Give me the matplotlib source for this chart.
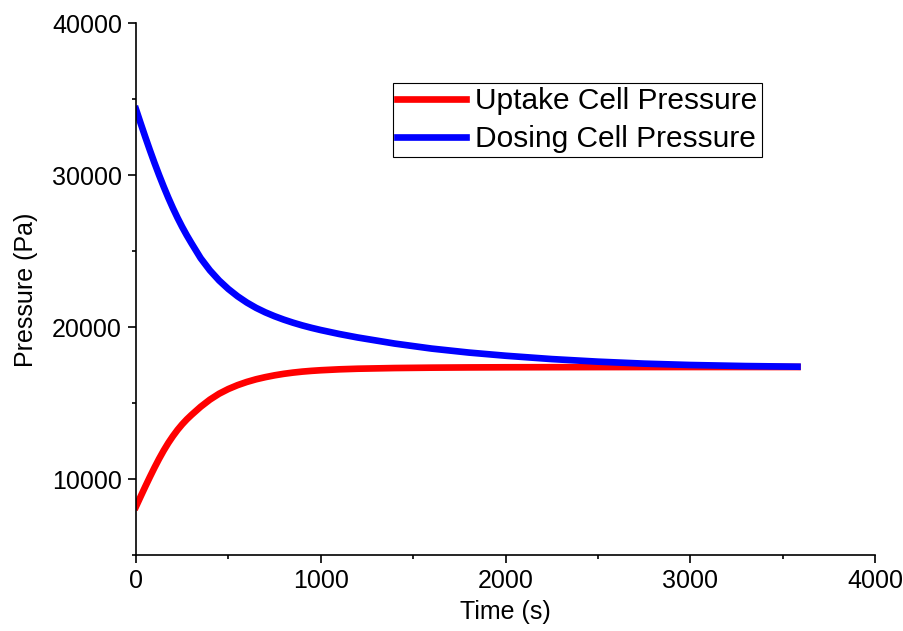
import matplotlib
matplotlib.use('Agg')
import matplotlib.pyplot as plt
from matplotlib.ticker import MultipleLocator

plt.rcParams['font.family'] = ['Liberation Sans', 'DejaVu Sans']

# time (s) and pressures (Pa)
time = [0, 25, 50, 75, 100, 125, 150, 175, 200, 225, 250, 275, 300,
        350, 400, 450, 500, 550, 600, 650, 700, 750, 800, 850, 900, 950, 1000,
        1100, 1200, 1400, 1600, 1800, 2000, 2250, 2500, 2750, 3000, 3300, 3580]
uptake = [8200, 8860, 9510, 10145, 10760, 11345, 11890, 12390, 12840, 13250,
          13615, 13940, 14230,
          14770, 15240, 15630, 15940, 16195, 16405, 16580, 16720, 16840, 16940,
          17020, 17085, 17135, 17175,
          17235, 17275, 17320, 17345, 17360, 17370, 17377, 17382, 17385, 17387,
          17388, 17389]
dosing = [34350, 33435, 32539, 31666, 30825, 30021, 29255, 28527, 27842, 27202,
          26607, 26055, 25541,
          24550, 23750, 23080, 22520, 22040, 21630, 21280, 20985, 20730, 20505,
          20305, 20125, 19965, 19820,
          19560, 19330, 18930, 18600, 18340, 18130, 17910, 17740, 17610, 17520,
          17450, 17410]

labels = ['Uptake Cell Pressure', 'Dosing Cell Pressure']

fig = plt.figure(figsize=(9.04, 6.31), dpi=100)
ax = fig.add_axes([0.1504, 0.12, 0.8176, 0.843])

ax.plot(time, uptake, color='#ff0000', lw=4.8, label=labels[0])
ax.plot(time, dosing, color='#0000ff', lw=4.8, label=labels[1])

ax.set_xlim(0, 4000)
ax.set_ylim(5000, 40000)
ax.xaxis.set_major_locator(MultipleLocator(1000))
ax.xaxis.set_minor_locator(MultipleLocator(500))
ax.yaxis.set_major_locator(MultipleLocator(10000))
ax.yaxis.set_minor_locator(MultipleLocator(5000))

for side in ['top', 'right']:
    ax.spines[side].set_visible(False)
for side in ['left', 'bottom']:
    ax.spines[side].set_linewidth(1.2)

ax.tick_params(which='major', direction='out', length=6, width=1.2,
               labelsize=18, pad=4)
ax.tick_params(which='minor', direction='out', length=3, width=1.2)

ax.set_xlabel('Time (s)', fontsize=18, labelpad=5)
ax.set_ylabel('Pressure (Pa)', fontsize=18, labelpad=10)

leg = ax.legend(loc='upper left', bbox_to_anchor=(0.4347, 0.8685),
                bbox_transform=fig.transFigure, fontsize=21.5,
                frameon=True, fancybox=False, framealpha=1,
                edgecolor='black', borderaxespad=0, borderpad=0.15,
                handlelength=2.3, handletextpad=0.3, labelspacing=0.32)
leg.get_frame().set_linewidth(0.8)

fig.savefig('out.png', dpi=100)
